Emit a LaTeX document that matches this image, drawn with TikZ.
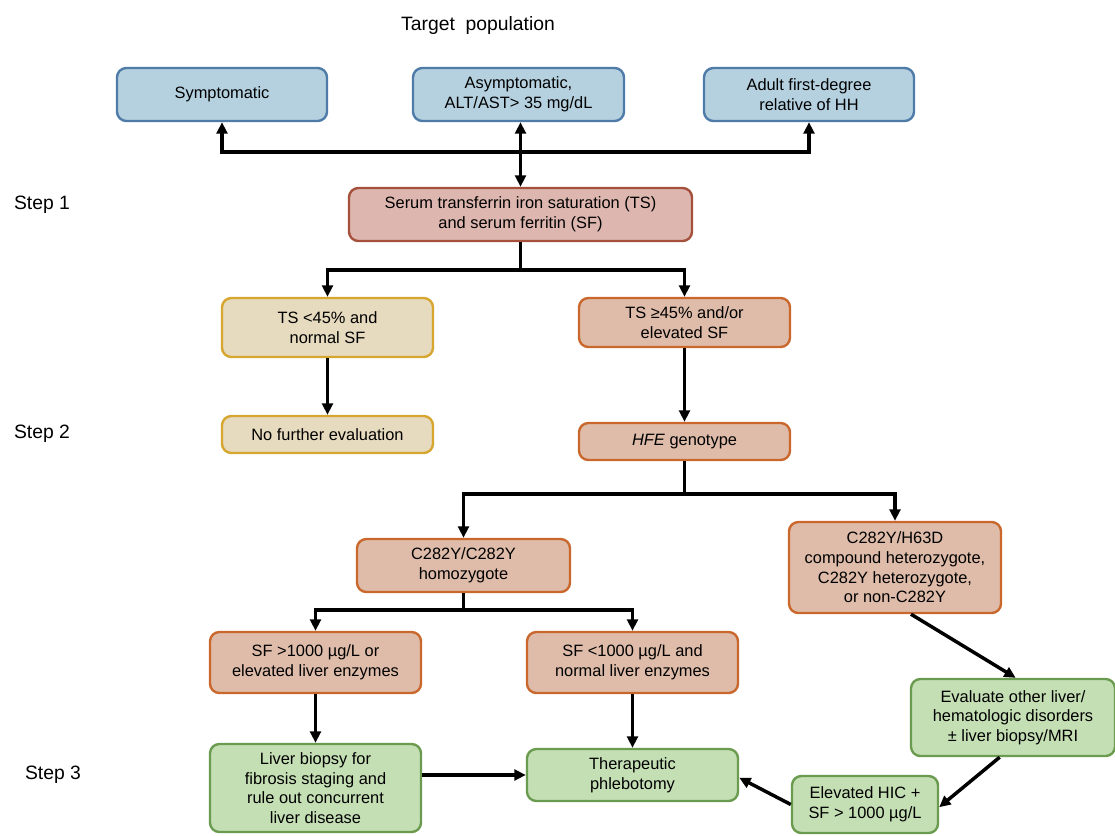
\documentclass[tikz,border=0pt]{standalone}
\usepackage{fontspec}
\setmainfont{Liberation Sans}
\usetikzlibrary{arrows.meta}
\definecolor{bluef}{HTML}{B5D1E0}
\definecolor{blued}{HTML}{4F7BA8}
\definecolor{redf}{HTML}{DDB7AF}
\definecolor{redd}{HTML}{A4503A}
\definecolor{orf}{HTML}{DEBCA9}
\definecolor{ord}{HTML}{C9672D}
\definecolor{yelf}{HTML}{E6DABF}
\definecolor{yeld}{HTML}{D6A62E}
\definecolor{grf}{HTML}{C5DFB5}
\definecolor{grd}{HTML}{6B9B4F}
\begin{document}
\begin{tikzpicture}[x=0.75pt,y=-0.75pt,
  bx/.style={rounded corners=7pt, line width=1.8pt, align=center, inner sep=1pt,
    font=\fontsize{12.3}{14.8}\selectfont},
  sz/.style 2 args={minimum width=#1*0.75pt, minimum height=#2*0.75pt},
  bluebox/.style={bx, draw=blued, fill=bluef},
  redbox/.style={bx, draw=redd, fill=redf},
  orbox/.style={bx, draw=ord, fill=orf},
  yelbox/.style={bx, draw=yeld, fill=yelf},
  grbox/.style={bx, draw=grd, fill=grf},
  lbl/.style={font=\fontsize{14.5}{17}\selectfont},
  ln/.style={line width=2.6pt, black},
  arr/.style={ln, -{Triangle[length=8.5pt,width=8pt]}},
  arrtwo/.style={ln, {Triangle[length=8.5pt,width=8pt]}-{Triangle[length=8.5pt,width=8pt]}}
]
\useasboundingbox (0,0) rectangle (1115,836);

% labels
\node[lbl] (title) at (478,25) {Target\ \ population};
\node[lbl] (s1) at (42,205) {Step 1};
\node[lbl] (s2) at (42,434) {Step 2};
\node[lbl] (s3) at (53,775) {Step 3};

% boxes
\node[bluebox, sz={210}{53}] (sym) at (222,94.5) {Symptomatic};
\node[bluebox, sz={211}{53}] (asym) at (518.5,94.5) {Asymptomatic,\\ALT/AST> 35 mg/dL};
\node[bluebox, sz={210}{53}] (adult) at (809,94.5) {Adult first-degree\\relative of HH};
\node[redbox, sz={343}{53}] (serum) at (520.5,214.5) {Serum transferrin iron saturation (TS)\\and serum ferritin (SF)};
\node[yelbox, sz={211}{59}] (ts1) at (327.5,327.5) {TS <45\% and\\normal SF};
\node[orbox, sz={211}{49}] (ts2) at (684.5,322.5) {TS ≥45\% and/or\\elevated SF};
\node[yelbox, sz={211}{37}] (nofur) at (327.5,434.5) {No further evaluation};
\node[orbox, sz={211}{37}] (hfe) at (684.5,441.5) {\textit{HFE} genotype};
\node[orbox, sz={213}{53}] (homo) at (463.5,565.5) {C282Y/C282Y\\homozygote};
\node[orbox, sz={212}{91}] (het) at (895,567.5) {C282Y/H63D\\compound heterozygote,\\C282Y heterozygote,\\or non-C282Y};
\node[orbox, sz={211}{61}] (sf1) at (315.5,662.5) {SF >1000 µg/L or\\elevated liver enzymes};
\node[orbox, sz={211}{61}] (sf2) at (632.5,662.5) {SF <1000 µg/L and\\normal liver enzymes};
\node[grbox, sz={211}{88}] (liver) at (315.5,788) {Liver biopsy for\\fibrosis staging and\\rule out concurrent\\liver disease};
\node[grbox, sz={211}{52}] (phleb) at (632.5,775) {Therapeutic\\phlebotomy};
\node[grbox, sz={204}{77}] (eval) at (1013,717.5) {Evaluate other liver/\\hematologic disorders\\± liver biopsy/MRI};
\node[grbox, sz={146}{57}] (hic) at (865,804.5) {Elevated HIC +\\SF > 1000 µg/L};

% bus coordinates
\coordinate (b1) at (520.5,152);
\coordinate (b2) at (520.5,270);
\coordinate (b3) at (684.5,494);
\coordinate (b4) at (463.5,610);

% connectors
\draw[arr] (b1) -| (sym.south);
\draw[arr] (b1) -| (adult.south);
\draw[arrtwo] (serum.north) -- (serum.north |- asym.south);

\draw[arr] (serum.south) -- (b2) -| (ts1.north);
\draw[arr] (serum.south) -- (b2) -| (ts2.north);
\draw[arr] (ts1) -- (nofur);
\draw[arr] (ts2) -- (hfe);

\draw[arr] (hfe.south) -- (b3) -| (homo.north);
\draw[arr] (hfe.south) -- (b3) -| (het.north);

\draw[arr] (homo.south) -- (b4) -| (sf1.north);
\draw[arr] (homo.south) -- (b4) -| (sf2.north);

\draw[arr] (sf1) -- (liver);
\draw[arr] (sf2) -- (phleb);
\draw[arr] (liver.east |- phleb.west) -- (phleb.west);

\draw[arr] ([xshift=12pt]het.south) -- ([xshift=2pt]eval.north);
\draw[arr] ([xshift=-10pt]eval.south) -- ([yshift=-2pt]hic.east);
\draw[arr] (hic.west) -- ([yshift=-2pt]phleb.east);
\end{tikzpicture}
\end{document}
